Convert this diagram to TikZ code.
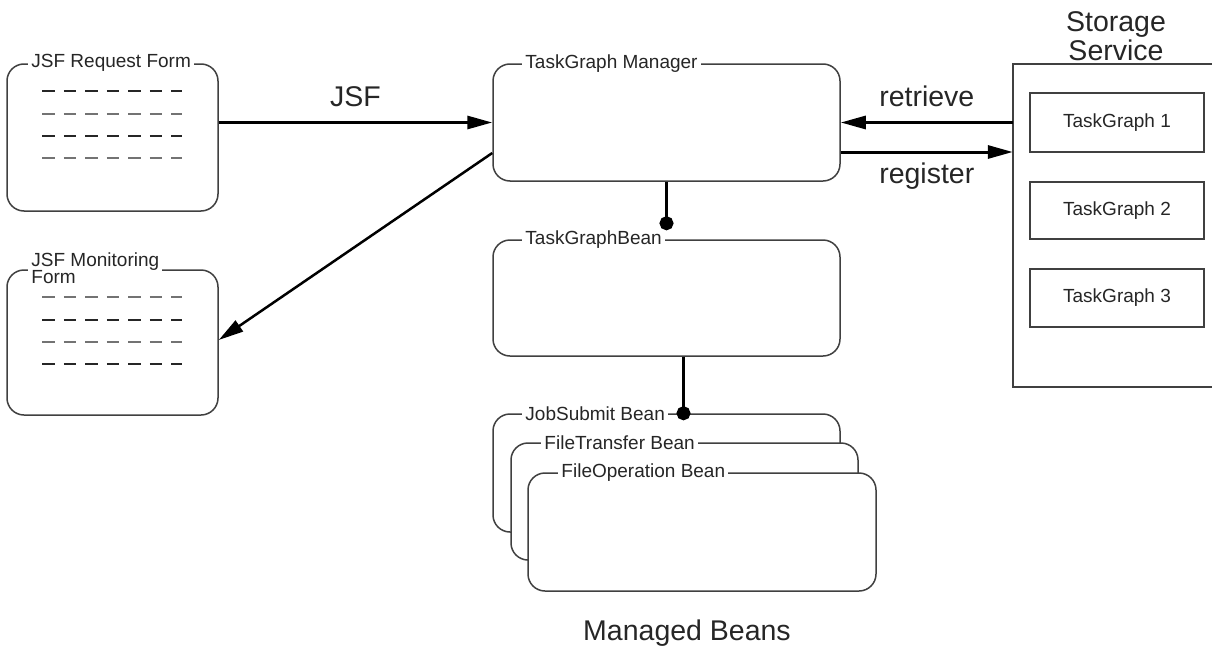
\documentclass[tikz,border=0pt]{standalone}
\usepackage{fontspec}
\setmainfont{Liberation Sans}
\usetikzlibrary{arrows.meta}

\newcommand\boxtitlefont{\fontsize{19pt}{21pt}\selectfont}
\newcommand\flowfont{\fontsize{28.5pt}{29pt}\selectfont}

\tikzset{
  panel/.style={draw=black!75, line width=1.5pt, rounded corners=17pt, fill=white, inner sep=0pt},
  paneltitle/.style={fill=white, anchor=west, inner xsep=3pt, inner ysep=1pt, font=\boxtitlefont, text=black!85, align=left},
  graphbox/.style={draw=black!75, line width=1.5pt, inner sep=0pt, minimum width=174pt, font=\boxtitlefont, text=black!85},
  flow/.style={line width=3pt, -{Triangle[length=25pt,width=13pt]}},
  beanlink/.style={line width=3pt, -{Circle[length=14pt]}},
  formline/.style={line width=2pt, dash pattern=on 12.5pt off 9pt},
  flowlabel/.style={font=\flowfont, text=black!85, inner sep=0pt}
}

\begin{document}
\begin{tikzpicture}[x=1pt, y=-1pt]
\useasboundingbox (0,0) rectangle (1212,645);

% JSF forms
\node[panel, minimum width=211pt, minimum height=147pt] (reqform) at (112.5,137.5) {};
\node[paneltitle] (reqtitle) at ([xshift=22pt]reqform.north west) {JSF Request Form};
\foreach \k/\tone in {0/black!85, 1/black!55, 2/black!85, 3/black!55}
  \draw[formline, \tone] ([shift={(36,28+22.3*\k)}]reqform.north west) -- ++(140,0);

\node[panel, minimum width=211pt, minimum height=145pt] (monform) at (112.5,342.5) {};
\node[paneltitle] (montitle) at ([xshift=22pt,yshift=1.5pt]monform.north west) {JSF Monitoring\\[-4pt]Form};
\foreach \k/\tone in {0/black!55, 1/black!85, 2/black!55, 3/black!85}
  \draw[formline, \tone] ([shift={(36,28+22.3*\k)}]monform.north west) -- ++(140,0);

% manager and beans
\node[panel, minimum width=347pt, minimum height=117pt] (manager) at (666.5,122.5) {};
\node[paneltitle] (managertitle) at ([xshift=30pt]manager.north west) {TaskGraph Manager};

\node[panel, minimum width=347pt, minimum height=116pt] (graphbean) at (666.5,298) {};
\node[paneltitle] (graphbeantitle) at ([xshift=30pt]graphbean.north west) {TaskGraphBean};

\node[panel, minimum width=347pt, minimum height=118pt] (jobbean) at (666.5,473) {};
\node[paneltitle] (jobbeantitle) at ([xshift=30pt]jobbean.north west) {JobSubmit Bean};
\node[panel, minimum width=347pt, minimum height=117pt] (transferbean) at (684.5,501.5) {};
\node[paneltitle] (transferbeantitle) at ([xshift=31pt]transferbean.north west) {FileTransfer Bean};
\node[panel, minimum width=348pt, minimum height=118pt] (operationbean) at (702,532) {};
\node[paneltitle] (operationbeantitle) at ([xshift=31pt]operationbean.north west) {FileOperation Bean};

\node[flowlabel] (beanscaption) at (687,633) {Managed Beans};

% storage service
\node[minimum width=201pt, minimum height=323pt, inner sep=0pt] (storage) at (1113.5,225.5) {};
\draw[black!75, line width=1.5pt] (storage.north east) -- (storage.north west) -- (storage.south west) -- (storage.south east);
\node[flowlabel, align=center] (storagelabel) at (1116,36) {Storage\\Service};

\node[graphbox, minimum height=59pt] (graphone) at (1117,122.5) {TaskGraph 1};
\node[graphbox, minimum height=57pt] (graphtwo) at (1117,210.5) {TaskGraph 2};
\node[graphbox, minimum height=58pt] (graphthree) at (1117,298) {TaskGraph 3};

% connectors
\draw[flow] (reqform.east |- manager.west) -- node[flowlabel, above=14pt] (jsflabel) {JSF} (manager.west);
\draw[flow] (storage.west |- manager.east) -- node[flowlabel, above=14pt] (retrievelabel) {retrieve} (manager.east);
\coordinate (registerstart) at ([yshift=-29.5pt]manager.east);
\draw[flow] (registerstart) -- node[flowlabel, below=9pt] (registerlabel) {register} (registerstart -| storage.west);
\coordinate (monitorstart) at ([yshift=-30.5pt]manager.west);
\draw[flow, line width=2.5pt] (monitorstart) -- ([yshift=2.5pt]monform.east);

\draw[beanlink] (manager.south) -- ([yshift=9pt]graphbean.north);
\draw[beanlink] ([xshift=17pt]graphbean.south) -- ([xshift=17pt,yshift=-7pt]jobbean.north);
\end{tikzpicture}
\end{document}
